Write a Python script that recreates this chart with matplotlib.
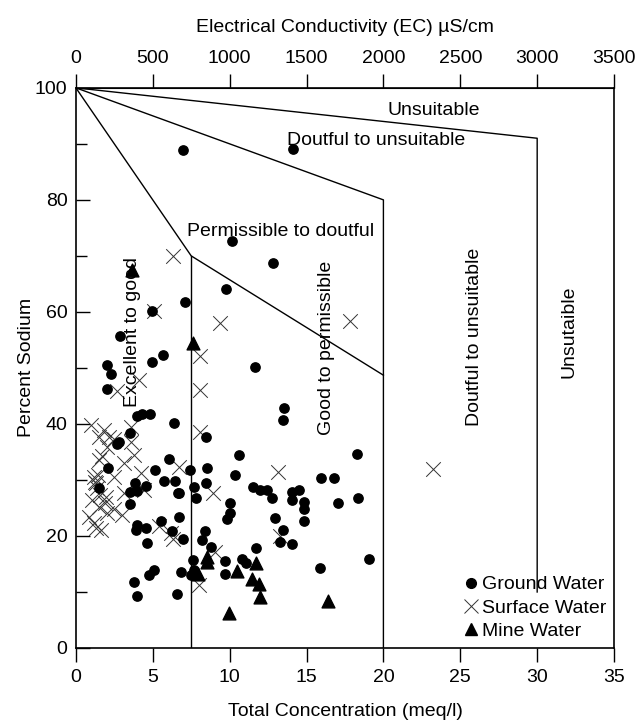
import matplotlib
matplotlib.use("Agg")
import matplotlib.pyplot as plt
from matplotlib.lines import Line2D
from matplotlib.ticker import MultipleLocator

plt.rcParams['font.family'] = ['Liberation Sans', 'DejaVu Sans']
plt.rcParams['font.size'] = 14

# ground water (filled circles)
gw_x = [6.95, 14.14, 10.18, 12.79, 9.74, 7.12, 4.95, 2.88, 5.67, 4.97, 2.05, 2.27, 2.05,
        8.47, 11.63, 13.53, 13.49, 10.6, 7.45, 8.52, 10.37, 15.95, 16.78, 18.3, 18.35, 17.06,
        8.47, 7.71, 7.82, 6.73, 11.52, 11.96, 12.4, 12.75, 14.05, 14.53, 14.05, 14.86, 14.86, 14.86,
        10.0, 10.04, 9.83, 12.96, 13.49, 13.27, 14.03, 8.37, 8.21, 6.99, 8.8, 11.74, 6.73,
        7.6, 9.67, 10.83, 11.09, 9.72, 7.65, 7.5, 15.88, 19.06, 6.84,
        4.6, 5.1, 4.77, 3.75, 4.0, 6.58,
        3.97, 4.33, 4.84, 6.4, 3.53, 2.81, 2.7, 6.03, 2.11, 5.16, 5.7, 6.47, 1.5, 3.86, 4.56,
        3.53, 3.97, 6.67, 3.53, 4.0, 3.92, 4.56, 5.54, 6.25]
gw_y = [88.9, 89.1, 72.6, 68.7, 64.1, 61.7, 60.2, 55.7, 52.3, 51.0, 50.5, 48.9, 46.2,
        37.6, 50.2, 42.8, 40.7, 34.5, 31.8, 32.2, 30.9, 30.4, 30.4, 34.7, 26.8, 25.8,
        29.4, 28.7, 26.7, 27.6, 28.8, 28.2, 28.2, 26.7, 27.9, 28.2, 26.4, 26.0, 24.8, 22.7,
        25.8, 24.1, 23.0, 23.2, 21.1, 18.9, 18.5, 20.9, 19.3, 19.4, 18.1, 17.8, 23.4,
        15.7, 15.5, 15.8, 15.1, 13.2, 14.0, 13.0, 14.2, 15.8, 13.6,
        18.8, 14.0, 13.0, 11.8, 9.2, 9.6,
        41.4, 41.8, 41.8, 40.1, 38.4, 36.8, 36.4, 33.75, 32.1, 31.7, 29.9, 29.9, 28.5, 29.4, 28.9,
        27.9, 28.1, 27.6, 25.7, 22.0, 21.1, 21.4, 22.6, 20.9]

# surface water (crosses)
sw_x = [6.34, 5.1, 9.35, 17.8, 2.7, 4.12, 8.1, 8.1, 8.04, 6.73, 13.12, 8.91, 13.27, 9.02, 7.99,
        23.2, 6.19, 6.3,
        0.96, 1.83, 3.58, 1.5, 2.16, 2.48, 3.58, 2.05, 3.79, 1.72, 1.5, 3.14, 4.23, 2.48, 1.18,
        1.29, 4.44, 3.14, 1.94, 1.07, 1.5, 2.48, 2.05, 3.03, 0.85, 1.18, 1.61, 1.29, 5.42,
        1.24, 1.46, 1.35, 1.57, 1.9]
sw_y = [70.0, 60.1, 58.1, 58.3, 45.8, 47.9, 52.1, 46.1, 38.6, 32.4, 31.5, 27.7, 20.0, 17.2, 11.25,
        32.0, 20.5, 19.5,
        39.8, 38.9, 39.5, 37.7, 37.7, 37.3, 36.8, 35.9, 34.5, 34.2, 33.6, 33.0, 31.3, 30.6, 30.6,
        29.4, 28.2, 27.6, 27.0, 26.4, 25.2, 24.9, 24.1, 23.75, 23.4, 22.3, 21.1, 21.4, 21.7,
        29.7, 30.9, 28.5, 27.3, 25.8]

# mine water (triangles)
mw_x = [3.62, 7.6, 8.5, 8.55, 7.93, 10.5, 11.74, 11.45, 11.92, 11.98, 16.37, 9.93]
mw_y = [67.5, 54.4, 16.3, 15.3, 13.2, 13.7, 15.2, 12.3, 11.4, 9.05, 8.4, 6.3]

# class boundaries (meq/l, % Na)
bound_a_x = [0, 30, 30]
bound_a_y = [100, 91, 10]
bound_b_x = [0, 20, 20]
bound_b_y = [100, 80, 0]
bound_c_x = [0, 7.5, 20]
bound_c_y = [100, 70, 48.7]
bound_d_x = [7.5, 7.5]
bound_d_y = [70, 0]

fig = plt.figure(figsize=(6.43, 7.2), dpi=100)
ax = fig.add_axes([0.118, 0.1, 0.837, 0.778])

for bx, by in [(bound_a_x, bound_a_y), (bound_b_x, bound_b_y),
               (bound_c_x, bound_c_y), (bound_d_x, bound_d_y)]:
    ax.plot(bx, by, color='black', lw=1.0, zorder=1)

ax.scatter(gw_x, gw_y, s=45, marker='o', color='black', zorder=3)
ax.scatter(sw_x, sw_y, s=110, marker='x', color='#333333', linewidths=0.7, zorder=2)
ax.scatter(mw_x, mw_y, s=85, marker='^', color='black', zorder=3)

ax.text(23.3, 96, "Unsuitable", ha='center', va='center')
ax.text(19.5, 90.6, "Doutful to unsuitable", ha='center', va='center')
ax.text(13.3, 74.3, "Permissible to doutful", ha='center', va='center')
ax.text(3.7, 56.5, "Excellent to good", rotation=90, ha='center', va='center')
ax.text(16.3, 53.5, "Good to permissible", rotation=90, ha='center', va='center')
ax.text(25.9, 55.5, "Doutful to unsuitable", rotation=90, ha='center', va='center')
ax.text(32.1, 56.5, "Unsutaible", rotation=90, ha='center', va='center')

ax.set_xlim(0, 35)
ax.set_ylim(0, 100)
ax.set_xticks(range(0, 36, 5))
ax.set_yticks(range(0, 101, 20))
ax.yaxis.set_minor_locator(MultipleLocator(10))
ax.tick_params(axis='x', direction='out', length=10, width=1, pad=5)
ax.tick_params(axis='y', direction='in', length=10, width=1, right=False, pad=6)
ax.tick_params(axis='y', which='minor', direction='in', length=8, width=1)
ax.tick_params(top=False)
for sp in ax.spines.values():
    sp.set_linewidth(1.2)

ax.set_xlabel("Total Concentration (meq/l)", labelpad=12)
ax.set_ylabel("Percent Sodium", labelpad=0)

secax = ax.secondary_xaxis('top', functions=(lambda x: x * 100, lambda x: x / 100))
secax.set_xticks(range(0, 3501, 500))
secax.tick_params(direction='out', length=10, width=1, pad=5)
secax.set_xlabel("Electrical Conductivity (EC) µS/cm", labelpad=13)

handles = [
    Line2D([], [], marker='o', color='black', ls='none', markersize=7),
    Line2D([], [], marker='x', color='#333333', ls='none', markersize=10, markeredgewidth=0.7),
    Line2D([], [], marker='^', color='black', ls='none', markersize=9),
]
ax.legend(handles, ["Ground Water", "Surface Water", "Mine Water"],
          loc='lower right', bbox_to_anchor=(1.0, 0.0), frameon=False,
          handlelength=0.8, handletextpad=0.15, labelspacing=0.3, borderaxespad=0.0)

fig.savefig("out.png", dpi=100)
